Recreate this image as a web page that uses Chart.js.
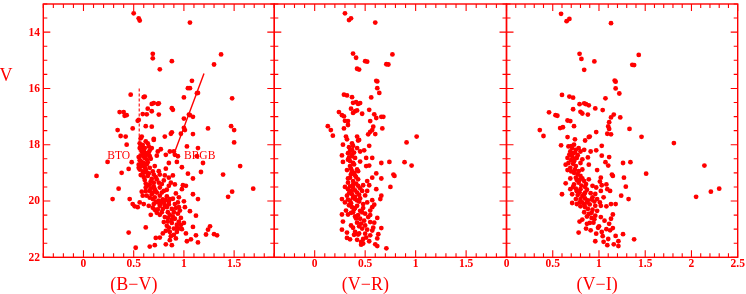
<!DOCTYPE html>
<html>
<head>
<meta charset="utf-8">
<script src="https://cdn.jsdelivr.net/npm/chart.js@4.4.1/dist/chart.umd.min.js"></script>
<style>
  body { margin: 0; background: #fff; }
  canvas { position: absolute; left: 0; top: 0; }
</style>
</head>
<body>
<canvas id="p1" width="746" height="294"></canvas>
<canvas id="p2" width="746" height="294"></canvas>
<canvas id="p3" width="746" height="294"></canvas>
<script>
// (B-V) colour of each star
const bvColor = [
  0.50,0.55,0.56,1.06,0.69,0.69,0.88,1.37,1.30,0.76,1.08,1.04,1.06,1.13,1.14,1.48,1.00,0.47,0.60,0.61,
  0.68,0.70,0.74,0.75,0.64,0.63,0.59,0.75,0.68,0.88,0.89,0.36,0.40,0.41,0.43,0.54,0.55,0.49,0.34,0.37,
  0.42,0.62,0.68,0.58,0.70,0.81,0.88,0.87,0.97,1.00,1.06,1.09,1.05,1.00,1.01,1.09,1.24,1.47,1.50,1.50,
  0.13,0.24,0.29,0.35,0.38,0.45,0.45,0.48,0.46,0.49,0.51,0.54,0.52,0.62,0.66,0.71,0.72,0.76,0.82,0.86,
  0.88,0.92,1.03,1.07,1.12,1.14,1.09,1.22,1.24,1.26,1.30,1.33,1.12,1.06,1.01,1.00,1.14,1.09,0.98,0.99,
  1.02,1.09,1.04,0.98,0.93,0.94,0.91,0.90,0.86,0.82,1.14,1.03,1.13,1.19,1.17,1.56,1.39,1.48,1.44,1.69,
  0.85,0.77,0.74,0.73,0.82,0.85,0.81,0.76,0.89,0.87,0.91,0.85,0.80,0.92,0.95,0.86,0.91,0.95,0.96,0.90,
  0.86,0.91,0.95,0.93,0.90,0.86,0.82,0.93,0.95,0.80,0.84,0.76,0.81,0.73,0.67,0.71,0.76,0.83,0.80,0.75,
  0.70,0.65,0.60,0.56,0.71,0.76,0.83,0.73,0.68,0.63,0.59,0.66,0.71,0.76,0.62,0.58,0.66,0.70,0.75,0.80,
  0.73,0.68,0.61,0.64,0.70,0.75,0.60,0.56,0.62,0.66,0.71,0.58,0.55,0.60,0.64,0.56,0.61,0.66,0.57,0.62,
  0.58,0.66,0.56,0.61,0.65,0.68,0.59,0.56,0.64,0.57,0.70,0.43,0.55,0.55,
  0.59,0.57,0.63,0.59,0.65,0.67,0.70,0.72,0.78,0.79,0.82,0.85,0.79,0.88,0.89,0.93,0.88,0.60,0.63,0.57,
  0.62,0.69,0.74,0.78,0.84,0.98,1.00,0.97,0.87,0.83,
  0.57,0.60,0.63,0.58,0.61,0.63,0.57,0.60,0.64,0.67,0.69,0.62,0.66,0.72,0.77,0.81,0.85,0.74,0.69,0.84,
  0.88,0.94,0.92,0.97,0.85,0.90,0.79,1.02,0.67,0.69,0.72,0.78,0.83,0.89,0.94,0.59,0.62,0.65
];
const bvMag = [
  13.33,13.51,13.59,13.66,14.77,14.93,15.03,14.79,15.15,15.32,15.73,15.99,15.99,16.17,16.16,16.35,16.32,16.22,16.31,16.29,
  16.55,16.52,16.55,16.53,16.72,16.92,16.91,16.93,16.81,16.70,16.76,16.84,16.84,16.97,16.95,17.15,17.12,17.42,17.48,17.69,
  17.71,17.34,17.36,17.71,17.79,17.71,17.56,17.61,17.61,17.07,16.95,17.01,16.93,17.40,17.48,17.62,17.42,17.34,17.48,17.92,
  19.11,18.61,19.93,19.56,19.00,21.12,18.86,18.62,19.93,20.11,20.19,20.22,21.66,20.94,21.62,21.57,21.31,21.30,21.54,21.39,
  21.57,21.33,21.43,21.36,21.22,21.47,20.92,21.19,21.02,20.90,21.18,21.22,20.52,20.36,20.22,20.01,19.93,19.76,19.58,19.44,
  19.46,19.20,19.03,18.80,18.61,18.41,18.36,18.24,18.24,18.36,18.12,18.06,18.41,18.65,18.97,18.76,19.06,19.67,19.85,19.56,
  18.65,18.16,18.24,18.39,18.85,19.17,19.09,19.06,19.09,19.35,19.41,19.46,19.64,19.73,19.87,19.93,20.11,20.22,20.34,20.40,
  20.49,20.63,20.73,20.84,20.98,21.10,21.06,21.10,20.98,20.75,20.73,20.49,20.57,20.42,20.49,20.31,20.17,20.22,20.05,19.99,
  20.11,20.17,20.11,20.05,19.87,19.81,19.84,19.70,19.76,19.81,19.81,19.64,19.58,19.52,19.52,19.67,19.41,19.35,19.35,19.27,
  19.23,19.21,19.25,19.11,19.06,18.94,19.00,18.88,18.88,18.82,18.76,18.76,18.82,18.65,18.62,18.55,18.47,18.41,18.39,18.30,
  18.24,18.20,18.12,18.12,18.06,18.12,18.01,17.95,17.95,17.77,17.83,18.00,18.44,18.71,
  18.33,18.58,18.70,18.95,19.02,19.30,19.48,19.66,19.70,19.94,19.97,20.02,20.28,20.28,20.55,20.95,20.78,18.20,18.52,18.68,
  19.38,19.93,20.05,20.40,20.60,21.00,20.78,20.60,21.25,20.88,
  18.05,18.42,18.36,18.62,18.80,18.98,19.08,19.15,19.45,19.55,19.70,19.65,19.88,20.02,20.08,20.15,20.12,20.30,20.24,20.40,
  20.65,20.45,20.25,20.85,20.95,21.20,21.15,21.15,18.50,18.95,19.15,19.40,19.60,19.92,20.05,18.10,17.88,18.28
];

// (V-R) colour of each star
const vrColor = [
  0.30,0.34,0.36,0.60,0.38,0.41,0.50,0.52,0.77,0.71,0.73,0.42,0.44,0.61,0.62,0.62,0.64,0.56,0.29,0.32,
  0.37,0.38,0.41,0.43,0.45,0.36,0.40,0.42,0.38,0.47,0.54,0.24,0.27,0.29,0.33,0.30,0.59,0.61,0.66,0.68,
  0.55,0.33,0.29,0.13,0.16,0.18,0.58,0.57,0.55,0.53,0.67,0.60,0.31,0.42,0.44,0.91,1.01,
  0.28,0.32,0.37,0.43,0.54,0.49,0.57,0.51,0.27,0.28,0.66,0.74,0.89,0.96,0.51,0.54,0.43,0.61,0.57,0.66,
  0.78,0.79,0.54,0.61,0.75,0.52,0.52,0.57,0.66,0.65,0.59,0.57,0.55,0.62,0.59,0.66,0.63,0.62,0.60,0.62,
  0.71,0.54,0.48,0.46,0.43,0.35,0.32,0.27,0.28,0.27,0.27,0.36,0.42,0.50,0.53,0.45,0.47,0.38,0.33,0.31,
  0.37,0.42,0.48,0.52,0.30,0.35,0.40,0.45,0.32,0.37,0.42,0.47,0.33,0.38,0.43,0.48,0.33,0.38,0.43,0.35,
  0.40,0.37,0.42,0.35,0.38,0.33,0.37,0.40,0.33,0.37,0.42,0.45,0.34,0.38,0.47,0.40,0.50,0.55,0.52,0.32,
  0.55,
  0.36,0.39,0.41,0.36,0.40,0.44,0.39,0.43,0.49,0.44,0.51,0.37,0.35,0.45,0.50,0.34,0.41,0.57,0.48,0.39,
  0.35,0.39,0.34,0.39,0.36,0.33,0.38,0.35,0.40,0.34,0.38,0.42,0.36,0.40,0.45,0.36,0.40,0.46,0.38,0.44,
  0.42,0.46,0.50,0.48,0.44,0.41,0.45,0.32,0.30,0.33,0.55,0.58
];
const vrMag = [
  13.33,13.57,13.51,13.66,14.76,14.91,15.03,15.05,14.79,15.14,15.15,15.30,15.33,15.73,15.75,15.99,16.16,16.32,16.22,16.25,
  16.31,16.51,16.49,16.55,16.52,16.72,16.81,16.78,16.87,16.90,16.76,16.84,16.95,16.99,17.16,17.15,16.92,17.05,17.01,17.01,
  17.16,17.30,17.42,17.34,17.48,17.68,17.36,17.48,17.54,17.63,17.42,17.62,17.71,17.71,17.83,17.92,17.71,
  18.00,17.81,17.95,17.85,18.04,18.20,18.47,18.47,18.38,18.61,18.65,18.61,18.62,18.74,18.76,18.74,18.94,19.02,19.17,19.20,
  19.06,19.11,19.44,19.58,19.50,19.29,19.64,19.97,19.81,19.93,20.13,20.22,20.34,20.60,20.77,20.96,21.18,21.33,21.54,21.60,
  21.68,21.43,21.51,21.45,21.19,21.36,21.31,21.02,20.73,20.48,19.93,20.87,20.77,20.87,20.57,20.63,20.40,20.40,20.48,20.34,
  20.22,20.17,20.11,20.05,20.05,19.99,19.93,19.91,19.81,19.76,19.70,19.64,19.58,19.52,19.46,19.44,19.35,19.29,19.23,19.17,
  19.09,18.94,18.88,18.76,18.65,18.53,18.41,18.47,18.30,18.18,18.12,18.24,18.09,18.04,20.98,21.10,21.16,21.22,21.02,21.12,
  20.75,
  18.85,19.00,19.38,19.65,19.85,20.02,20.30,20.50,20.70,20.90,21.30,18.35,18.58,19.55,19.80,20.15,20.62,21.05,21.35,21.20,
  18.22,18.28,18.45,18.70,19.05,19.20,19.42,19.48,19.62,19.72,19.88,19.98,20.08,20.25,20.35,20.42,20.55,20.80,20.95,21.15,
  21.38,21.55,20.45,20.25,19.78,19.15,18.60,18.90,19.50,19.95,20.50,20.95
];

// (V-I) colour of each star
const viColor = [
  0.59,0.65,0.68,1.13,0.79,0.81,0.95,1.43,1.36,1.38,0.84,1.17,1.18,1.18,1.22,1.07,0.60,0.68,0.72,0.79,
  0.84,0.86,0.89,0.72,0.80,0.82,0.88,0.96,1.04,0.46,0.53,0.55,0.66,0.69,1.16,1.13,1.23,1.11,1.10,1.11,
  0.58,0.61,0.73,0.36,0.40,0.66,0.74,0.89,0.97,1.09,1.13,1.33,1.46,1.81,0.59,
  2.14,2.05,2.21,2.30,1.51,1.32,1.27,1.29,1.24,1.26,1.34,1.38,1.26,1.21,1.18,1.21,1.16,1.09,1.05,0.96,
  0.97,1.03,1.12,1.15,1.11,1.13,1.15,0.78,0.79,0.82,0.87,0.94,0.91,0.86,1.02,0.96,0.89,0.84,0.93,0.85,
  0.80,0.96,1.02,1.08,1.13,1.18,0.87,0.82,0.76,0.71,0.75,0.80,0.85,0.93,0.98,1.05,0.71,0.77,0.84,0.91,
  0.60,1.02,1.09,1.12,0.69,0.75,0.80,0.87,0.93,1.03,1.08,0.64,0.73,0.78,0.84,0.89,1.01,1.02,1.14,1.15,
  0.98,0.75,0.80,0.73,0.78,0.82,0.69,0.75,0.89,1.10,1.07,0.67,0.73,0.80,0.64,0.66,0.71,0.76,0.69,0.75,
  0.80,0.67,0.73,0.78,0.84,0.91,0.97,1.03,1.11,0.85,1.03,0.90,
  0.72,0.70,0.74,0.77,0.81,0.76,0.82,0.88,0.90,0.92,0.98,1.00,1.06,0.77,0.71,0.85,0.95,
  0.70,0.74,0.68,0.72,0.70,0.76,0.79,0.72,0.79,0.85,0.79,0.84,0.88,0.92,0.87,0.95,0.99,1.04,1.10,1.08,
  0.92,0.96,0.82,0.86,0.69,0.66,0.74,0.88,0.82,0.97,1.01,0.90
];
const viMag = [
  13.35,13.61,13.53,13.68,14.77,14.95,15.04,14.81,15.16,15.17,15.34,15.72,15.76,16.00,16.18,16.35,16.23,16.29,16.33,16.56,
  16.53,16.56,16.60,16.74,16.83,16.89,16.93,16.71,16.77,16.85,16.95,16.97,17.14,17.16,16.93,17.03,17.03,17.20,17.35,17.44,
  17.41,17.38,17.34,17.48,17.69,17.73,17.81,17.73,17.55,17.61,17.63,17.44,17.72,17.94,18.02,
  18.74,19.85,19.67,19.56,19.03,19.93,19.17,19.49,19.81,18.65,18.62,21.36,21.18,21.43,21.24,21.60,21.54,21.57,21.45,21.43,
  21.16,21.10,21.04,20.96,20.81,20.63,20.48,21.12,20.73,20.66,20.81,20.77,21.04,20.98,20.57,20.52,20.46,20.40,20.31,20.22,
  20.19,20.17,20.17,20.19,20.11,20.11,20.05,20.05,20.11,20.07,19.93,19.93,19.91,19.87,19.93,19.87,19.76,19.79,19.76,19.72,
  19.76,19.64,19.58,19.64,19.58,19.56,19.58,19.60,19.46,19.44,19.41,19.37,19.41,19.35,19.29,19.23,19.31,19.17,19.06,19.11,
  18.90,19.17,19.11,19.00,18.94,18.88,18.82,18.76,18.71,18.74,18.62,18.65,18.59,18.65,18.71,18.47,18.41,18.47,18.24,18.18,
  18.24,18.06,18.00,18.12,18.18,18.24,18.20,18.39,18.44,17.85,18.04,17.71,
  18.30,18.55,18.88,19.05,19.45,19.65,19.82,19.98,20.12,20.60,20.35,20.90,20.70,18.37,18.12,19.50,20.02,
  18.05,18.28,18.35,18.68,18.95,19.25,19.25,19.50,19.70,19.70,20.05,20.12,20.28,20.42,20.55,20.65,20.95,21.25,21.35,21.00,
  19.95,19.75,19.20,19.40,19.20,18.90,18.50,18.45,18.52,19.52,20.05,20.78
];

// markers in the (B-V) panel: blue turn-off (dashed) and blue red giant branch (solid)
const btoLine = [{x: 0.555, y: 16.0}, {x: 0.555, y: 18.9}];
const brgbLine = [{x: 0.915, y: 18.2}, {x: 1.20, y: 15.47}];

const vTickLabels = [14, 16, 18, 20, 22];
const xTickLabels12 = ['0', '0.5', '1', '1.5'];
const xTickLabels3 = ['0', '0.5', '1', '1.5', '2', '2.5'];

const RED = '#ff0000';
const W = 746, H = 294;

function pts(xs, ys) {
  return xs.map((x, i) => ({x: x, y: ys[i]}));
}

const framePlugin = {
  id: 'frame',
  afterDatasetsDraw(chart) {
    const o = chart.options.plugins.frame;
    const ctx = chart.ctx, a = chart.chartArea;
    const xs = chart.scales.x, ys = chart.scales.y;
    ctx.save();
    ctx.strokeStyle = RED;
    ctx.fillStyle = RED;
    ctx.lineWidth = 1.4;
    ctx.strokeRect(a.left, a.top, a.right - a.left, a.bottom - a.top);
    ctx.lineWidth = 1.1;
    ctx.beginPath();
    // V ticks every 0.5 mag, long ones every 2
    for (let i = 26; i <= 44; i++) {
      const v = i / 2, y = ys.getPixelForValue(v);
      const len = (i % 4 === 0) ? 7 : 4;
      ctx.moveTo(a.left, y); ctx.lineTo(a.left + len, y);
      ctx.moveTo(a.right, y); ctx.lineTo(a.right - len, y);
    }
    // colour ticks every 0.1, long ones every 0.5
    const i0 = Math.ceil(xs.min * 10 - 1e-6), i1 = Math.floor(xs.max * 10 + 1e-6);
    for (let i = i0; i <= i1; i++) {
      const x = xs.getPixelForValue(i / 10);
      const len = (i % 5 === 0) ? 7 : 4;
      ctx.moveTo(x, a.bottom); ctx.lineTo(x, a.bottom - len);
      ctx.moveTo(x, a.top); ctx.lineTo(x, a.top + len);
    }
    ctx.stroke();

    ctx.font = 'bold 11.5px "Liberation Serif", "DejaVu Serif", serif';
    ctx.textAlign = 'center';
    ctx.textBaseline = 'middle';
    o.xLabels.forEach(t => ctx.fillText(t, xs.getPixelForValue(parseFloat(t)), 264.5));
    if (o.showV) {
      ctx.textAlign = 'right';
      vTickLabels.forEach(v => ctx.fillText(String(v), 40, ys.getPixelForValue(v) + 0.5));
      ctx.font = '18px "Liberation Serif", "DejaVu Serif", serif';
      ctx.textAlign = 'center';
      ctx.fillText('V', 6, 76);
    }
    ctx.font = '18px "Liberation Serif", "DejaVu Serif", serif';
    ctx.textAlign = 'center';
    ctx.textBaseline = 'alphabetic';
    ctx.fillText(o.title, (a.left + a.right) / 2 + o.titleShift, 290);

    if (o.notes) {
      ctx.font = '11.5px "Liberation Serif", "DejaVu Serif", serif';
      ctx.textBaseline = 'middle';
      o.notes.forEach(n => ctx.fillText(n.text, xs.getPixelForValue(n.x), ys.getPixelForValue(n.y)));
    }
    ctx.restore();
  }
};

function makePanel(id, xs, ys, xmin, xmax, left, right, frame, extra) {
  const datasets = [{
    data: pts(xs, ys),
    pointRadius: 2.4,
    pointBackgroundColor: RED,
    pointBorderWidth: 0,
    showLine: false
  }].concat(extra || []);
  return new Chart(document.getElementById(id).getContext('2d'), {
    type: 'scatter',
    data: {datasets: datasets},
    options: {
      responsive: false,
      animation: false,
      events: [],
      layout: {padding: {left: left, right: W - right, top: 0.7, bottom: H - 257.3}},
      scales: {
        x: {type: 'linear', min: xmin, max: xmax, display: false},
        y: {type: 'linear', min: 13, max: 22, reverse: true, display: false}
      },
      plugins: {legend: {display: false}, tooltip: {enabled: false}, frame: frame}
    },
    plugins: [framePlugin]
  });
}

makePanel('p1', bvColor, bvMag, -0.4, 1.9, 43.3, 274.3,
  {xLabels: xTickLabels12, showV: true, title: '(B\u2212V)', titleShift: -25,
   notes: [{text: 'BTO', x: 0.35, y: 18.4}, {text: 'BRGB', x: 1.157, y: 18.4}]},
  [
    {data: btoLine, showLine: true, pointRadius: 0, borderColor: RED, borderWidth: 1.1, borderDash: [3, 2]},
    {data: brgbLine, showLine: true, pointRadius: 0, borderColor: RED, borderWidth: 1.4}
  ]);
makePanel('p2', vrColor, vrMag, -0.4, 1.9, 274.3, 506.5,
  {xLabels: xTickLabels12, showV: false, title: '(V\u2212R)', titleShift: -25});
makePanel('p3', viColor, viMag, 0, 2.5, 506.5, 737.7,
  {xLabels: xTickLabels3, showV: false, title: '(V\u2212I)', titleShift: -25});
</script>
</body>
</html>
